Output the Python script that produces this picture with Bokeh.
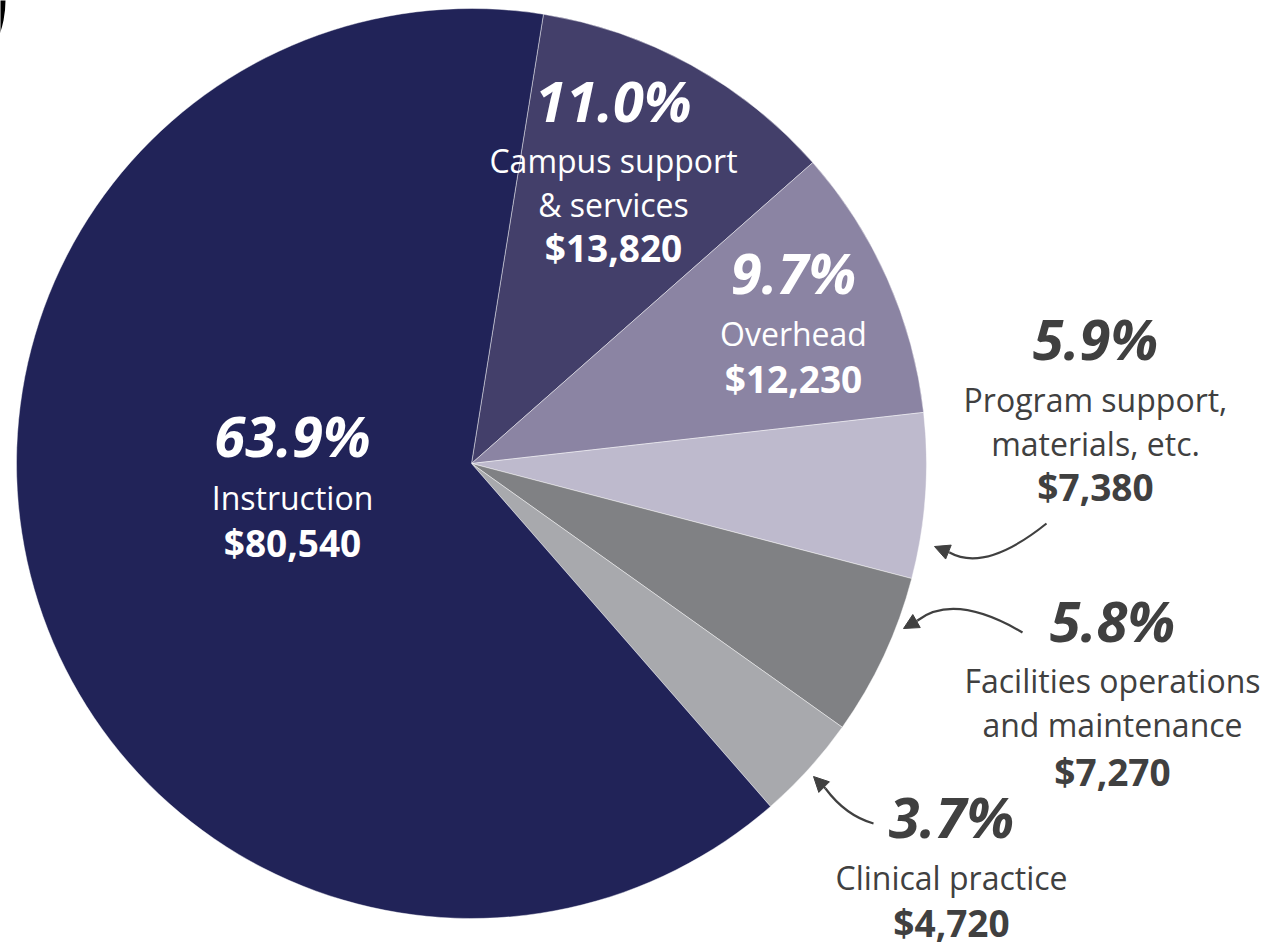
import math
from bokeh.plotting import figure
from bokeh.models import Range1d, Arrow, NormalHead, ColumnDataSource
from bokeh.core.properties import value
from bokeh.embed import file_html
from bokeh.resources import INLINE

# ---------------- data ----------------
categories = ["Campus support & services", "Overhead", "Program support, materials, etc.",
              "Facilities operations and maintenance", "Clinical practice", "Instruction"]
values = [13820, 12230, 7380, 7270, 4720, 80540]
label_lines = [["Campus support", "& services"], ["Overhead"], ["Program support,", "materials, etc."],
               ["Facilities operations", "and maintenance"], ["Clinical practice"], ["Instruction"]]
colors = ["#433f6a", "#8b84a3", "#bebacd", "#808184", "#a8a9ad", "#212358"]
text_colors = ["white", "white", "#404040", "#404040", "#404040", "white"]

# ---------------- layout ----------------
W, H = 1278, 947
TOP = 947  # reference pixel -> data y = TOP - y_ref
FONT = "Open Sans"
PCT_SIZE, LAB_SIZE, VAL_SIZE = 56, 32, 37
SHIFT = 0.41  # baseline correction (fraction of font size)

def Y(yref):
    return TOP - yref

p = figure(width=W, height=H, x_range=Range1d(0, W), y_range=Range1d(TOP - H, TOP),
           output_backend="svg", toolbar_location=None, x_axis_location=None, y_axis_location=None,
           min_border=0)
p.grid.visible = False
p.outline_line_color = None
p.background_fill_color = "white"
p.border_fill_color = "white"

# small dark sliver at the top-left corner (edge of a cropped neighbouring element)
p.circle(x=[-96], y=[Y(0)], radius=101, fill_color="black", line_color=None)

CX, CY, R = 471, Y(463), 455
start_clock = 9.1  # degrees clockwise from 12 o'clock where the first slice begins

total = float(sum(values))
starts, ends = [], []
acc = start_clock
for v in values:
    t0 = acc
    t1 = acc + v / total * 360.0
    starts.append(math.radians(90 - t1))
    ends.append(math.radians(90 - t0))
    acc = t1

src = ColumnDataSource(dict(start=starts, end=ends, color=colors, cat=categories, val=values))
p.wedge(x=CX, y=CY, radius=R, start_angle="start", end_angle="end", direction="anticlock",
        fill_color="color", line_color="white", line_width=0.8, line_alpha=0.55, source=src)

# label anchor positions (reference pixels): center x, pct baseline, label baselines, value baseline
anchors = [
    (613, 122, [173, 217], 262),
    (793, 294, [346], 393),
    (1095, 360, [412, 456], 501),
    (1112, 642, [693, 737], 786),
    (951, 838, [890], 937),
    (292, 457, [510], 557),
]

pct_x, pct_y, pct_t, pct_c = [], [], [], []
lab_x, lab_y, lab_t, lab_c = [], [], [], []
val_x, val_y, val_t, val_c = [], [], [], []
for i, v in enumerate(values):
    cx, py, lys, vy = anchors[i]
    pct_x.append(cx); pct_y.append(Y(py) + SHIFT * PCT_SIZE)
    pct_t.append(f"{v / total * 100:.1f}%"); pct_c.append(text_colors[i])
    for line, ly in zip(label_lines[i], lys):
        lab_x.append(cx); lab_y.append(Y(ly) + SHIFT * LAB_SIZE); lab_t.append(line); lab_c.append(text_colors[i])
    val_x.append(cx); val_y.append(Y(vy) + SHIFT * VAL_SIZE)
    val_t.append(f"${v:,}"); val_c.append(text_colors[i])

p.text(x=pct_x, y=pct_y, text=pct_t, text_color=pct_c, text_font=value(FONT),
       text_font_size=f"{PCT_SIZE}px", text_font_style="bold italic", text_align="center",
       text_baseline="alphabetic")
p.text(x=lab_x, y=lab_y, text=lab_t, text_color=lab_c, text_font=value(FONT),
       text_font_size=f"{LAB_SIZE}px", text_font_style="normal", text_align="center",
       text_baseline="alphabetic")
p.text(x=val_x, y=val_y, text=val_t, text_color=val_c, text_font=value(FONT),
       text_font_size=f"{VAL_SIZE}px", text_font_style="bold", text_align="center",
       text_baseline="alphabetic")

# curved callout arrows (reference pixels): start, control, end-of-curve, tip
arrows = [
    ((1046, 523), (985, 572), (949, 552), (934, 546)),
    ((1022, 632), (954, 592), (917, 620), (903, 628)),
    ((873, 823), (845, 815), (825, 788), (813, 776)),
]
ACOL = "#404040"
for (p0, c, p2, tip) in arrows:
    p.quadratic(x0=[p0[0]], y0=[Y(p0[1])], x1=[p2[0]], y1=[Y(p2[1])], cx=[c[0]], cy=[Y(c[1])],
                line_color=ACOL, line_width=2.2)
    p.add_layout(Arrow(end=NormalHead(size=15, fill_color=ACOL, line_color=ACOL, line_width=1),
                       x_start=p2[0], y_start=Y(p2[1]), x_end=tip[0], y_end=Y(tip[1]),
                       line_color=ACOL, line_width=2.2))

open("out.html", "w").write(file_html(p, INLINE))
